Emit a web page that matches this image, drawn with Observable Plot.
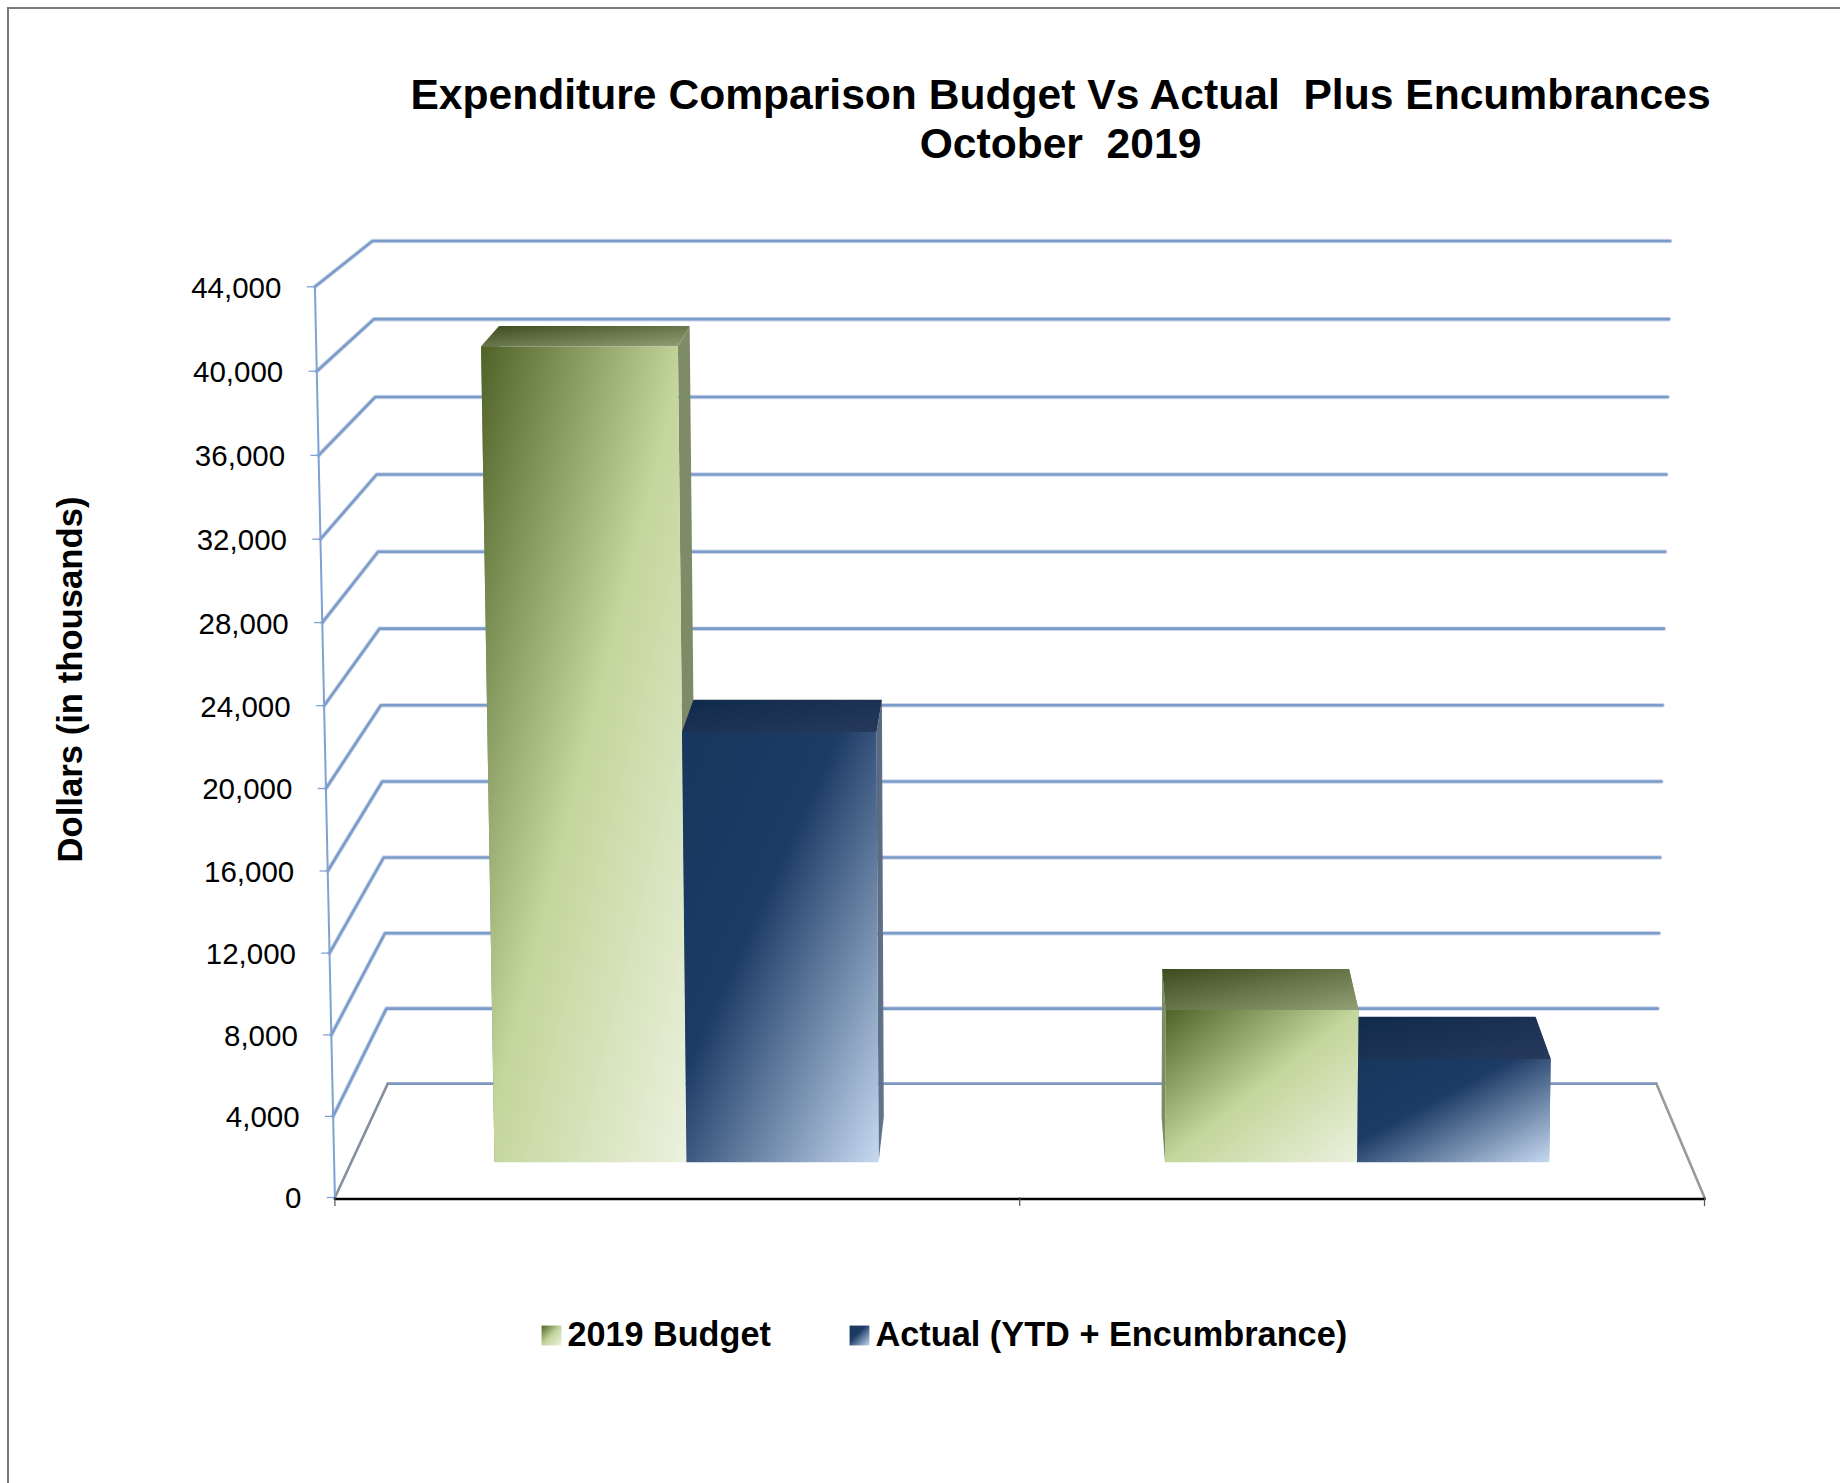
<!DOCTYPE html>
<html>
<head>
<meta charset="utf-8">
<script src="https://cdn.jsdelivr.net/npm/d3@7"></script>
<script src="https://cdn.jsdelivr.net/npm/@observablehq/plot@0.6"></script>
<style>
html,body{margin:0;padding:0;background:#fff;overflow:hidden}
#chart{position:absolute;left:0;top:0;width:1840px;height:1483px}
#border{position:absolute;left:7px;top:7px;right:-4px;bottom:-4px;border:2px solid #7a7a7a;pointer-events:none}
</style>
</head>
<body>
<div id="chart"></div>
<div id="border"></div>
<script>
const titleLines = ["Expenditure Comparison Budget Vs Actual  Plus Encumbrances", "October  2019"];
const yAxisTitle = "Dollars (in thousands)";
const seriesNames = ["2019 Budget", "Actual (YTD + Encumbrance)"];
const budget = [40420, 7670];
const actual = [21520, 5200];
const groupCenters = [0.2505, 0.7515];
const yTicks = [0, 4000, 8000, 12000, 16000, 20000, 24000, 28000, 32000, 36000, 40000, 44000];
const xTicks = [0, 0.5, 1];
const yMax = 44000;

// Oblique 3-D box view: category position u, value v, depth t -> position on the front plane
const warp = v => { const n = v / yMax; return n + 0.022 * n * (n - 1); };
const project = (u, v, t) => {
  const w = warp(v);
  const yFront = w * yMax, yBack = 5500 + 40711 * w;
  const lFront = -0.0146 * w, lBack = 0.0386 - 0.0112 * w;
  const rFront = 1 + 0.0146 * w, rBack = 0.9649 + 0.0100 * w;
  const l = lFront + t * (lBack - lFront), r = rFront + t * (rBack - rFront);
  return {x: l + u * (r - l), y: yFront + t * (yBack - yFront)};
};
const barWidth = 0.1435, depthNear = 0.31, depthFar = 0.71;

const boxFaces = (u0, u1, v) => ({
  left: [project(u0, 0, depthNear), project(u0, v, depthNear), project(u0, v, depthFar), project(u0, 0, depthFar)],
  right: [project(u1, 0, depthNear), project(u1, v, depthNear), project(u1, v, depthFar), project(u1, 0, depthFar)],
  top: [project(u0, v, depthNear), project(u1, v, depthNear), project(u1, v, depthFar), project(u0, v, depthFar)],
  front: [project(u0, 0, depthNear), project(u1, 0, depthNear), project(u1, v, depthNear), project(u0, v, depthNear)]
});

const face = (pts, fill) => Plot.line(pts, {x: "x", y: "y", fill, stroke: "none"});

// Painter's order for two boxes standing side by side
const groupMarks = (c, i) => {
  const b = boxFaces(c - barWidth, c, budget[i]);
  const a = boxFaces(c, c + barWidth, actual[i]);
  return [
    face(a.right, "url(#side1)"),
    face(b.left, "url(#side0)"), face(b.right, "url(#side0)"),
    face(a.top, "url(#top1)"),
    face(b.top, "url(#top0)"), face(b.front, "url(#front0)"),
    face(a.front, "url(#front1)")
  ];
};

const gridRows = yTicks.filter(v => v > 0).flatMap(v => [project(0, v, 0), project(0, v, 1), project(1, v, 1)].map(p => ({...p, v})));
const floorLeft = [project(0, 0, 0), project(0, 0, 1)];
const floorBack = [project(0, 0, 1), project(1, 0, 1)];
const floorRight = [project(1, 0, 1), project(1, 0, 0)];

const defs = () => {
  const d = document.createElementNS("http://www.w3.org/2000/svg", "defs");
  const grad = (id, stops) => `<linearGradient id="${id}" x1="0" y1="0" x2="1" y2="1">${stops.map(([o, c]) => `<stop offset="${o}" stop-color="${c}"/>`).join("")}</linearGradient>`;
  d.innerHTML =
    grad("front0", [[0, "#4f6228"], [0.5, "#c3d69b"], [1, "#ebf1de"]]) +
    grad("front1", [[0, "#17375e"], [0.4, "#1c3b65"], [1, "#c6d9f1"]]) +
    grad("top0", [[0, "#3c4a1d"], [1, "#93a077"]]) +
    grad("top1", [[0, "#10294a"], [1, "#263a5c"]]) +
    grad("side0", [[0, "#7d8b66"], [1, "#7d8b66"]]) +
    grad("side1", [[0, "#55667f"], [1, "#66768f"]]);
  return d;
};

const pinned = (text, dx, dy, o = {}) =>
  Plot.text([text], {text: d => d, frameAnchor: "top-left", dx, dy, lineAnchor: "middle", fill: "#000", ...o});

const chart = Plot.plot({
  width: 1840,
  height: 1483,
  margin: 0,
  style: {fontFamily: "'Liberation Sans', Arial, sans-serif", background: "#fff"},
  x: {domain: [0, 1], range: [334.4, 1704], axis: null},
  y: {domain: [0, yMax], range: [1197, 286.3], axis: null},
  marks: [
    defs,
    // walls
    Plot.line(gridRows, {x: "x", y: "y", z: "v", stroke: "#cfd9ea", strokeWidth: 4.5, strokeLinejoin: "round"}),
    Plot.line(gridRows, {x: "x", y: "y", z: "v", stroke: "#7b9bc9", strokeWidth: 2.6, strokeLinejoin: "round"}),
    Plot.line(floorBack, {x: "x", y: "y", stroke: "#7d97c0", strokeWidth: 2.6}),
    Plot.line(floorLeft, {x: "x", y: "y", stroke: "#868f9f", strokeWidth: 2.6}),
    Plot.line(floorRight, {x: "x", y: "y", stroke: "#9a9a9a", strokeWidth: 2.6}),
    // value axis
    Plot.line([project(0, 0, 0), project(0, yMax, 0)], {x: "x", y: "y", stroke: "#7fa2d2", strokeWidth: 2}),
    Plot.link(yTicks, {
      x1: d => project(0, d, 0).x - 0.006, x2: d => project(0, d, 0).x,
      y1: d => project(0, d, 0).y, y2: d => project(0, d, 0).y,
      stroke: "#7fa2d2", strokeWidth: 1.3
    }),
    Plot.text(yTicks, {
      x: d => project(0, d, 0).x, y: d => project(0, d, 0).y,
      text: d => d3.format(",")(d), textAnchor: "end", dx: -33.5, dy: 1.5, fontSize: 29.5, fill: "#000"
    }),
    // bars
    ...groupCenters.flatMap(groupMarks),
    // category axis
    Plot.line([project(0, 0, 0), project(1, 0, 0)], {x: "x", y: "y", dy: 1.5, stroke: "#000", strokeWidth: 2.6}),
    Plot.ruleX(xTicks, {x: d => d, y1: 0, y2: -440, stroke: "#555", strokeWidth: 1.2}),
    // titles
    pinned(titleLines[0], 1060, 95, {textAnchor: "middle", fontWeight: "bold", fontSize: 42.6}),
    pinned(titleLines[1], 1060, 144, {textAnchor: "middle", fontWeight: "bold", fontSize: 42.6}),
    pinned(yAxisTitle, 70, 679, {textAnchor: "middle", fontWeight: "bold", fontSize: 34.7, rotate: -90}),
    // legend
    Plot.dot([0], {frameAnchor: "top-left", dx: 551, dy: 1335, symbol: "square", r: 11.2, fill: "url(#front0)", stroke: "none"}),
    pinned(seriesNames[0], 567, 1335, {textAnchor: "start", fontWeight: "bold", fontSize: 34.2}),
    Plot.dot([0], {frameAnchor: "top-left", dx: 859, dy: 1335, symbol: "square", r: 11.2, fill: "url(#front1)", stroke: "none"}),
    pinned(seriesNames[1], 875, 1335, {textAnchor: "start", fontWeight: "bold", fontSize: 34.3})
  ]
});
document.getElementById("chart").append(chart);
</script>
</body>
</html>
